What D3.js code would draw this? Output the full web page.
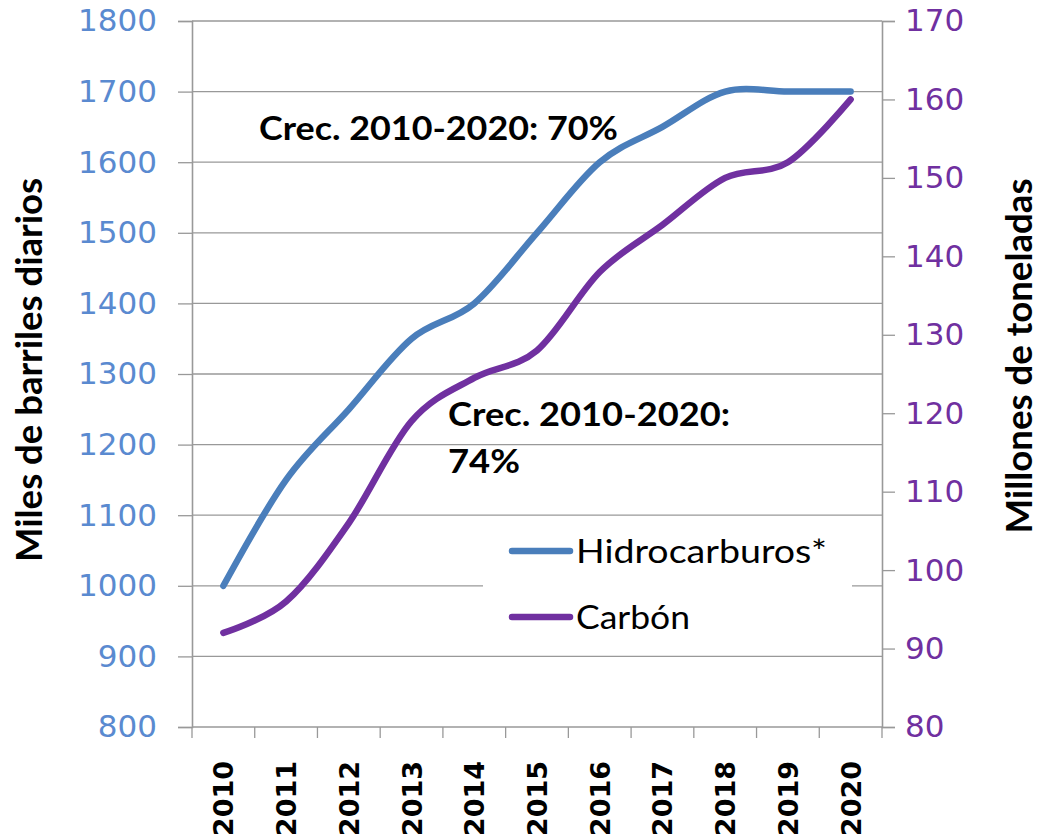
<!DOCTYPE html>
<html>
<head>
<meta charset="utf-8">
<script src="https://cdn.jsdelivr.net/npm/d3@7"></script>
<style>
  body { margin: 0; background: #fff; }
  svg { display: block; }
</style>
</head>
<body>
<svg width="1039" height="840"></svg>
<script>
// datos
var anios = ["2010", "2011", "2012", "2013", "2014", "2015", "2016", "2017", "2018", "2019", "2020"];
var hidrocarburos = [1000, 1150, 1250, 1350, 1400, 1500, 1600, 1650, 1700, 1700, 1700];
var carbon = [92, 96, 106, 119, 124.5, 128, 138, 144, 150, 152, 160];
var ticksIzq = [800, 900, 1000, 1100, 1200, 1300, 1400, 1500, 1600, 1700, 1800];
var ticksDer = [80, 90, 100, 110, 120, 130, 140, 150, 160, 170];
var series = ["Hidrocarburos*", "Carbón"];

var azul = "#4A7EBB",
    morado = "#7030A0",
    gris = "#999999";

var svg = d3.select("svg");

var x = d3.scaleBand().domain(anios).range([192, 882]);
var yIzq = d3.scaleLinear().domain([800, 1800]).range([727, 21]);
var yDer = d3.scaleLinear().domain([80, 170]).range([727, 21]);

// lineas de rejilla
svg.append("g")
  .selectAll("line")
  .data(ticksIzq)
  .join("line")
  .attr("x1", 192).attr("x2", 882)
  .attr("y1", function(d) { return yIzq(d); })
  .attr("y2", function(d) { return yIzq(d); })
  .attr("stroke", gris)
  .attr("stroke-width", 1.3);

// eje izquierdo
var ejeIzq = svg.append("g")
  .attr("transform", "translate(192,0)")
  .call(d3.axisLeft(yIzq).tickValues(ticksIzq).tickFormat(d3.format("d")).tickSize(14).tickPadding(21));
ejeIzq.attr("font-family", null).attr("font-size", null);
ejeIzq.select(".domain").attr("stroke", gris).attr("stroke-width", 1.6);
ejeIzq.selectAll(".tick line").attr("stroke", gris).attr("stroke-width", 1.3);
ejeIzq.selectAll(".tick text")
  .attr("fill", "#5A8AD0")
  .style("font-family", "'DejaVu Sans'")
  .style("font-size", "31px");

// eje derecho
var ejeDer = svg.append("g")
  .attr("transform", "translate(882,0)")
  .call(d3.axisRight(yDer).tickValues(ticksDer).tickFormat(d3.format("d")).tickSize(13).tickPadding(10));
ejeDer.attr("font-family", null).attr("font-size", null);
ejeDer.select(".domain").attr("stroke", gris).attr("stroke-width", 1.6);
ejeDer.selectAll(".tick line").attr("stroke", gris).attr("stroke-width", 1.3);
ejeDer.selectAll(".tick text")
  .attr("fill", morado)
  .style("font-family", "'DejaVu Sans'")
  .style("font-size", "31px");

// eje inferior: marcas en los limites de cada banda
var bordes = anios.map(function(a) { return x(a); }).concat([x.range()[1]]);
svg.append("g")
  .selectAll("line")
  .data(bordes)
  .join("line")
  .attr("x1", function(d) { return d; }).attr("x2", function(d) { return d; })
  .attr("y1", 727).attr("y2", 738)
  .attr("stroke", gris)
  .attr("stroke-width", 1.3);

svg.append("g")
  .selectAll("text")
  .data(anios)
  .join("text")
  .attr("transform", function(d) {
    return "translate(" + (x(d) + x.bandwidth() / 2) + ",761) rotate(-90)";
  })
  .attr("dy", "0.37em")
  .attr("text-anchor", "end")
  .style("font-family", "'DejaVu Sans'")
  .style("font-weight", "bold")
  .style("font-size", "27px")
  .text(function(d) { return d; });

// fondo de la leyenda (tapa la rejilla)
svg.append("rect")
  .attr("x", 483).attr("y", 522)
  .attr("width", 369).attr("height", 126)
  .attr("fill", "#fff");

// lineas suavizadas
var cx = function(d, i) { return x(anios[i]) + x.bandwidth() / 2; };

var lineaH = d3.line()
  .x(cx)
  .y(function(d) { return yIzq(d); })
  .curve(d3.curveCatmullRom.alpha(0));

var lineaC = d3.line()
  .x(cx)
  .y(function(d) { return yDer(d); })
  .curve(d3.curveCatmullRom.alpha(0));

svg.append("path")
  .attr("d", lineaC(carbon))
  .attr("fill", "none")
  .attr("stroke", morado)
  .attr("stroke-width", 6.5)
  .attr("stroke-linecap", "round");

svg.append("path")
  .attr("d", lineaH(hidrocarburos))
  .attr("fill", "none")
  .attr("stroke", azul)
  .attr("stroke-width", 6.5)
  .attr("stroke-linecap", "round");

// leyenda
var colores = [azul, morado];
var leyenda = svg.append("g");
series.forEach(function(s, i) {
  var yy = 551 + i * 66;
  leyenda.append("line")
    .attr("x1", 512).attr("x2", 570)
    .attr("y1", yy).attr("y2", yy)
    .attr("stroke", colores[i])
    .attr("stroke-width", 6.5)
    .attr("stroke-linecap", "round");
  leyenda.append("text")
    .attr("x", 576).attr("y", yy + 12)
    .attr("textLength", i == 0 ? 251 : 114)
    .attr("lengthAdjust", "spacingAndGlyphs")
    .style("font-family", "Lato")
    .style("font-size", "32px")
    .text(s);
});

// anotaciones
function texto(t, px, py, largo, tam) {
  svg.append("text")
    .attr("x", px).attr("y", py)
    .attr("textLength", largo)
    .attr("lengthAdjust", "spacingAndGlyphs")
    .style("font-family", "Lato")
    .style("font-weight", "bold")
    .style("font-size", tam + "px")
    .text(t);
}
texto("Crec. 2010-2020: 70%", 259, 140, 359, 32);
texto("Crec. 2010-2020:", 448, 426, 282, 32);
texto("74%", 448, 473, 72, 32);

// titulos de ejes
svg.append("text")
  .attr("transform", "translate(42,370) rotate(-90)")
  .attr("text-anchor", "middle")
  .attr("textLength", 384)
  .attr("lengthAdjust", "spacingAndGlyphs")
  .style("font-family", "Lato")
  .style("font-weight", "bold")
  .style("font-size", "36px")
  .text("Miles de barriles diarios");

svg.append("text")
  .attr("transform", "translate(1032,356) rotate(-90)")
  .attr("text-anchor", "middle")
  .attr("textLength", 355)
  .attr("lengthAdjust", "spacingAndGlyphs")
  .style("font-family", "Lato")
  .style("font-weight", "bold")
  .style("font-size", "36px")
  .text("Millones de toneladas");
</script>
</body>
</html>
